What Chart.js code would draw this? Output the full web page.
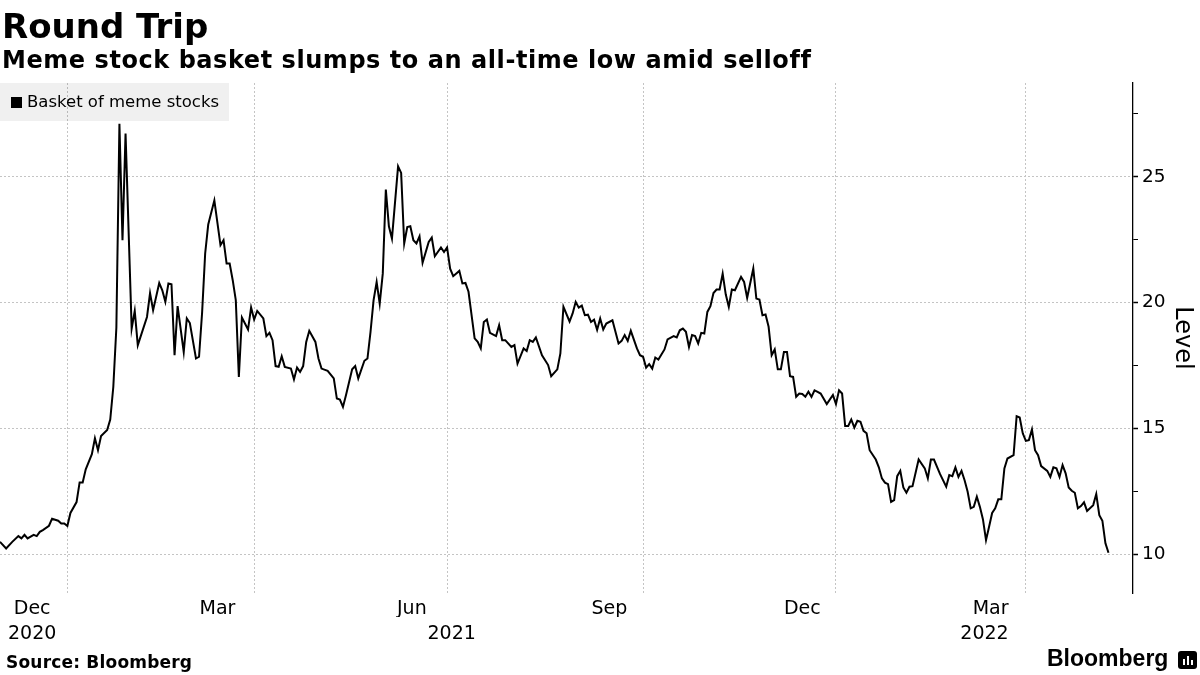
<!DOCTYPE html>
<html>
<head>
<meta charset="utf-8">
<title>Round Trip</title>
<script src="https://cdn.jsdelivr.net/npm/chart.js@4"></script>
<style>
  body { margin: 0; background: #fff; font-family: 'DejaVu Sans', sans-serif; }
  #wrap { position: relative; width: 1200px; height: 675px; overflow: hidden; }
  #chart { position: absolute; left: 0; top: 0; }
  .txt { position: absolute; white-space: nowrap; color: #000; }
  #title { left: 2px; top: 9px; font-size: 34px; line-height: 34px; font-weight: bold; }
  #subtitle { left: 2px; top: 48px; font-size: 24px; line-height: 24px; font-weight: bold; letter-spacing: 0.55px; }
  #legend { position: absolute; left: 0; top: 83px; width: 229px; height: 38px; background: rgba(0,0,0,0.06); }
  #legend span.box { position: absolute; left: 11px; top: 14px; width: 11px; height: 11px; background: #000; }
  #legend span.lab { position: absolute; left: 27px; top: 10px; font-size: 16.5px; line-height: 17px; white-space: nowrap; }
  #source { left: 6px; top: 654px; font-size: 17px; line-height: 17px; font-weight: bold; letter-spacing: 0.2px; }
  #brand { left: 1047px; top: 647px; font-family: 'Liberation Sans', sans-serif; font-size: 23px; line-height: 23px; font-weight: bold; }
  #icon { position: absolute; left: 1178px; top: 651px; width: 19px; height: 18px; background: #000; border-radius: 3px; }
  #icon i { position: absolute; bottom: 4px; width: 2px; background: #fff; }
</style>
</head>
<body>
<div id="wrap">
  <canvas id="chart" width="1200" height="675"></canvas>
  <div class="txt" id="title">Round Trip</div>
  <div class="txt" id="subtitle">Meme stock basket slumps to an all-time low amid selloff</div>
  <div id="legend"><span class="box"></span><span class="lab">Basket of meme stocks</span></div>
  <div class="txt" id="source">Source: Bloomberg</div>
  <div class="txt" id="brand">Bloomberg</div>
  <div id="icon"><i style="left:5px;height:6px"></i><i style="left:9px;height:9px"></i><i style="left:13px;height:5px"></i></div>
</div>
<script>
// Trading-day index since 2020-12-01 and the basket level
const tradingDay = [
  0, 2, 4, 6, 7, 8, 9, 11, 12, 13, 14, 16, 17, 19, 20, 21, 22, 23, 25, 26, 27, 28, 30, 31, 32, 33, 35, 36, 37, 38,
  39, 40, 41, 43, 44, 45, 48, 49, 50, 52, 53, 54, 55, 56, 57, 58, 60, 61, 62, 64, 65, 66, 67, 68, 70, 72, 73, 74, 75, 76,
  77, 78, 79, 81, 82, 83, 84, 86, 87, 88, 89, 90, 91, 92, 93, 95, 96, 97, 98, 99, 100, 101, 103, 104, 105, 107, 109, 110, 111, 112,
  113, 115, 116, 117, 119, 120, 121, 122, 123, 124, 125, 126, 127, 128, 130, 131, 132, 133, 134, 135, 136, 137, 138, 140, 141, 142, 144, 145, 146, 147,
  148, 150, 151, 152, 153, 155, 156, 157, 158, 159, 160, 162, 163, 164, 165, 167, 168, 169, 171, 172, 173, 174, 175, 177, 179, 180, 182, 183, 184, 186,
  187, 188, 189, 190, 191, 192, 193, 194, 195, 196, 197, 198, 200, 202, 203, 204, 205, 206, 208, 209, 210, 211, 212, 213, 214, 215, 217, 218, 220, 221,
  222, 223, 224, 225, 226, 227, 228, 229, 230, 231, 232, 233, 234, 235, 236, 237, 238, 239, 240, 242, 243, 244, 246, 247, 248, 249, 250, 251, 252, 253,
  254, 255, 256, 257, 258, 259, 260, 261, 262, 263, 264, 265, 266, 267, 268, 270, 272, 273, 274, 275, 276, 277, 278, 279, 280, 281, 282, 283, 284, 286,
  287, 288, 289, 290, 291, 292, 293, 294, 295, 296, 297, 298, 300, 302, 303, 304, 305, 307, 309, 310, 311, 312, 313, 314, 315, 316, 317, 318, 319, 320,
  321, 322, 323, 324, 325, 326, 327, 328, 329, 331, 332, 333, 334, 335, 336, 337, 338, 339, 340, 342, 343, 344, 345, 346, 347, 348, 349, 350, 351, 352,
  353, 354, 355, 357, 358, 359, 360, 361, 362
];
const basketLevel = [
  10.50, 10.24, 10.50, 10.73, 10.64, 10.78, 10.64, 10.78, 10.73, 10.90, 10.97, 11.14, 11.42, 11.34, 11.23, 11.23, 11.13, 11.65, 12.08, 12.86, 12.86, 13.38, 13.98, 14.61, 14.14, 14.70, 14.94, 15.36, 16.65, 19.00,
  27.10, 22.48, 26.71, 18.97, 19.67, 18.31, 19.43, 20.38, 19.70, 20.78, 20.49, 20.03, 20.76, 20.73, 17.91, 19.86, 18.04, 19.37, 19.19, 17.78, 17.85, 19.60, 21.95, 23.10, 24.06, 22.28, 22.48, 21.55, 21.55, 20.89,
  20.10, 17.05, 19.41, 18.93, 19.81, 19.33, 19.67, 19.37, 18.67, 18.80, 18.51, 17.48, 17.45, 17.87, 17.45, 17.38, 16.95, 17.42, 17.25, 17.48, 18.44, 18.88, 18.44, 17.78, 17.38, 17.29, 16.99, 16.19, 16.15, 15.86,
  16.33, 17.35, 17.48, 16.99, 17.69, 17.78, 18.84, 20.10, 20.82, 19.96, 21.15, 24.49, 23.03, 22.54, 25.41, 25.15, 22.35, 23.00, 23.03, 22.48, 22.35, 22.63, 21.58, 22.41, 22.58, 21.84, 22.19, 22.01, 22.19, 21.35,
  21.05, 21.26, 20.76, 20.78, 20.43, 18.58, 18.44, 18.18, 19.23, 19.33, 18.80, 18.67, 19.10, 18.51, 18.51, 18.24, 18.31, 17.58, 18.18, 18.08, 18.51, 18.44, 18.62, 17.91, 17.52, 17.08, 17.35, 17.98, 19.83, 19.25,
  19.57, 20.03, 19.80, 19.88, 19.50, 19.52, 19.23, 19.32, 18.92, 19.37, 18.93, 19.17, 19.30, 18.38, 18.48, 18.71, 18.48, 18.88, 18.18, 17.91, 17.85, 17.42, 17.56, 17.38, 17.82, 17.74, 18.14, 18.54, 18.67, 18.62,
  18.90, 18.97, 18.84, 18.24, 18.71, 18.67, 18.38, 18.80, 18.77, 19.63, 19.86, 20.38, 20.52, 20.52, 21.15, 20.33, 19.83, 20.52, 20.49, 21.02, 20.82, 20.19, 21.35, 20.16, 20.12, 19.50, 19.53, 19.04, 17.91, 18.14,
  17.35, 17.35, 18.04, 18.04, 17.08, 17.05, 16.26, 16.39, 16.37, 16.26, 16.46, 16.26, 16.52, 16.46, 16.39, 15.97, 16.33, 15.97, 16.52, 16.39, 15.10, 15.10, 15.36, 15.04, 15.31, 15.27, 14.91, 14.81, 14.14, 13.77,
  13.46, 13.02, 12.85, 12.79, 12.09, 12.16, 13.11, 13.32, 12.66, 12.45, 12.69, 12.71, 13.77, 13.42, 13.02, 13.77, 13.77, 13.19, 12.69, 13.15, 13.11, 13.46, 13.08, 13.32, 12.95, 12.49, 11.83, 11.89, 12.29, 11.89,
  11.39, 10.57, 11.10, 11.65, 11.83, 12.19, 12.19, 13.42, 13.81, 13.94, 15.49, 15.44, 14.81, 14.51, 14.54, 14.96, 14.14, 13.94, 13.51, 13.32, 13.08, 13.46, 13.42, 13.08, 13.55, 13.22, 12.66, 12.53, 12.45, 11.83,
  11.92, 12.07, 11.73, 11.96, 12.40, 11.56, 11.34, 10.44, 10.07
];

// Axis ticks (in trading-day index)
const quarterStarts = [22, 83, 146, 210, 273, 335];     // Jan, Apr, Jul, Oct 2021, Jan, Apr 2022
const monthLabels = ['Dec', 'Mar', 'Jun', 'Sep', 'Dec', 'Mar'];
const monthCenters = [10.5, 71, 134.5, 199, 262, 323.5];
const yearLabels = ['2020', '2021', '2022'];
const yearCenters = [10.5, 147.5, 321.5];
const levelTicks = [10, 12.5, 15, 17.5, 20, 22.5, 25, 27.5];

const X_MIN = 0, X_MAX = 370;
const Y_MIN = 8.47, Y_MAX = 28.72;
const FONT = 'DejaVu Sans';

const points = tradingDay.map((d, i) => ({ x: d, y: basketLevel[i] }));

function fixedTicks(list) {
    return scale => { scale.ticks = list.map(v => ({ value: v })); };
}

function labelAxis(weight, centers, labels, height, pad) {
    return {
        type: 'linear',
        position: 'bottom',
        weight: weight,
        min: X_MIN,
        max: X_MAX,
        grid: { display: false, drawTicks: false },
        border: { display: false },
        afterBuildTicks: fixedTicks(centers),
        afterFit: scale => { scale.height = height; },
        ticks: {
            autoSkip: false,
            maxRotation: 0,
            padding: pad,
            color: '#000',
            font: { family: FONT, size: 19 },
            callback: (v, i) => labels[i]
        }
    };
}

Chart.defaults.font.family = FONT;

new Chart(document.getElementById('chart'), {
    type: 'line',
    data: {
        datasets: [{
            label: 'Basket of meme stocks',
            data: points,
            borderColor: '#000',
            borderWidth: 2,
            pointRadius: 0,
            tension: 0,
            fill: false
        }]
    },
    options: {
        responsive: false,
        animation: false,
        devicePixelRatio: 1,
        layout: { padding: { top: 83, left: 0, right: 0, bottom: 0 } },
        plugins: { legend: { display: false }, tooltip: { enabled: false } },
        scales: {
            x: {
                type: 'linear',
                position: 'bottom',
                weight: 0,
                min: X_MIN,
                max: X_MAX,
                afterBuildTicks: fixedTicks(quarterStarts),
                afterFit: scale => { scale.height = 0; },
                grid: { color: '#c4c4c4', lineWidth: 1, drawTicks: false },
                border: { display: false, dash: [2, 2] },
                ticks: { display: false }
            },
            xMonth: labelAxis(1, monthCenters, monthLabels, 24, 5),
            xYear: labelAxis(2, yearCenters, yearLabels, 58, 6),
            y: {
                type: 'linear',
                position: 'right',
                min: Y_MIN,
                max: Y_MAX,
                afterBuildTicks: fixedTicks(levelTicks),
                afterFit: scale => { scale.width = 67; },
                grid: {
                    color: c => (c.tick && c.tick.value % 5 === 0) ? '#c4c4c4' : 'rgba(0,0,0,0)',
                    lineWidth: 1,
                    drawTicks: true,
                    tickLength: 5,
                    tickColor: '#000',
                    tickWidth: c => (c.tick && c.tick.value % 5 === 0) ? 1.5 : 1
                },
                border: { display: true, color: '#000', width: 1.3, dash: [2, 2] },
                ticks: {
                    padding: 4,
                    color: '#000',
                    font: { family: FONT, size: 18.5 },
                    callback: v => (v % 5 === 0 ? String(v) : '')
                },
                title: {
                    display: true,
                    text: 'Level',
                    color: '#000',
                    font: { family: FONT, size: 24 },
                    padding: { top: 3, bottom: 0 }
                }
            }
        }
    }
});
</script>
</body>
</html>
